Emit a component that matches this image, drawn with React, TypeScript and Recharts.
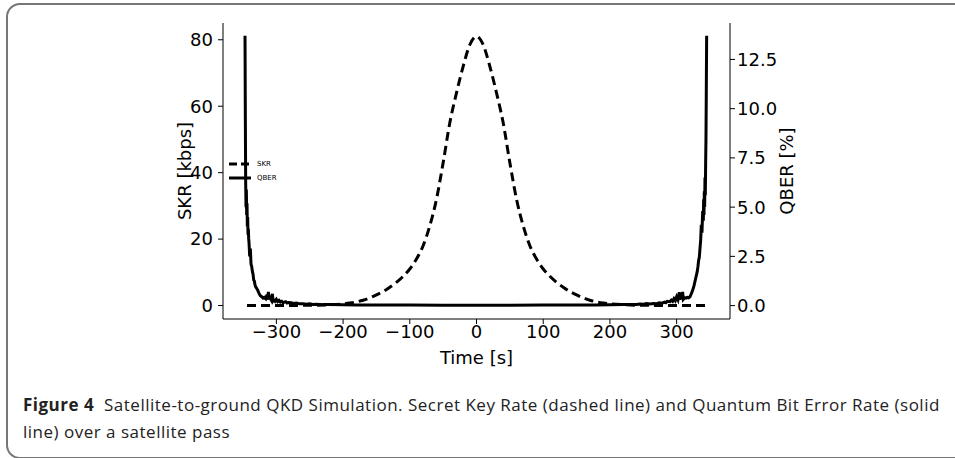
import { LineChart, Line, XAxis, YAxis, Legend } from 'recharts';

// time axis [s]
const timeTicks = [-300, -200, -100, 0, 100, 200, 300];
const skrTicks = [0, 20, 40, 60, 80];
const qberTicks = [0, 2.5, 5, 7.5, 10, 12.5];

// Secret key rate [kbps]
const skrTime = [
  -344, -300, -250, -220, -200, -190, -180, -170, -160, -150,
  -140, -130, -120, -110, -100, -90, -80, -70, -60, -50,
  -40, -30, -20, -10, 0, 10, 20, 30, 40, 50,
  60, 70, 80, 90, 100, 110, 120, 130, 140, 150,
  160, 170, 180, 190, 200, 220, 250, 300, 344,
];
const skrRate = [
  0, 0.02, 0.08, 0.25, 0.5, 0.75, 1.1, 1.6, 2.3, 3.2,
  4.2, 5.5, 7.0, 8.8, 11, 14, 18, 24, 32, 43,
  55, 64, 72, 78.5, 81, 78.5, 72, 64, 55, 43,
  32, 24, 18, 14, 11, 8.8, 7.0, 5.5, 4.2, 3.2,
  2.3, 1.6, 1.1, 0.75, 0.5, 0.25, 0.08, 0.02, 0,
];

// Quantum bit error rate [%]
const qberTime = [
  -347, -346.5, -346, -345.5, -345, -344.5, -344, -343.5, -343, -342.5,
  -342, -341.5, -341, -340, -339, -338, -337, -336, -335, -334,
  -333, -332, -331, -330, -328, -326, -324, -322, -320, -318,
  -316, -314, -313, -312, -311, -310, -308, -306, -305, -304,
  -302, -300, -298, -296, -294, -292, -290, -286, -284, -282,
  -278, -274, -270, -265, -260, -255, -250, -245, -240, -230,
  -220, -200, -180, -150, -100, -50, 0, 50, 100, 150,
  180, 200, 220, 230, 240, 245, 250, 255, 260, 265,
  270, 274, 278, 282, 284, 286, 290, 292, 294, 296,
  298, 300, 302, 304, 305, 306, 308, 309, 310, 312,
  314, 316, 318, 320, 322, 324, 326, 328, 330, 331,
  332, 333, 334, 335, 336, 337, 338, 339, 340, 340.5,
  341, 341.5, 342, 342.5, 343, 343.5, 344, 344.5, 345,
];
const qberRate = [
  13.7, 9.5, 6.2, 5.0, 5.9, 4.6, 5.2, 4.0, 4.5, 3.6,
  3.9, 3.4, 3.2, 2.5, 2.9, 2.1, 2.0, 1.75, 1.6, 1.3,
  1.25, 1.05, 0.95, 0.9, 0.78, 0.62, 0.5, 0.45, 0.38, 0.42,
  0.35, 0.55, 0.3, 0.7, 0.32, 0.42, 0.3, 0.6, 0.25, 0.3,
  0.22, 0.32, 0.2, 0.26, 0.18, 0.22, 0.15, 0.2, 0.13, 0.16,
  0.14, 0.11, 0.13, 0.09, 0.1, 0.07, 0.09, 0.06, 0.07, 0.05,
  0.05, 0.04, 0.035, 0.03, 0.025, 0.02, 0.02, 0.02, 0.025, 0.03,
  0.035, 0.04, 0.05, 0.05, 0.06, 0.08, 0.07, 0.1, 0.08, 0.11,
  0.1, 0.14, 0.12, 0.18, 0.15, 0.22, 0.2, 0.28, 0.22, 0.35,
  0.25, 0.45, 0.3, 0.68, 0.3, 0.55, 0.35, 0.7, 0.32, 0.4,
  0.38, 0.42, 0.4, 0.45, 0.6, 0.78, 1.0, 1.3, 1.6, 1.75,
  2.0, 2.3, 2.45, 2.9, 3.3, 4.1, 3.7, 4.8, 4.3, 5.4,
  4.6, 5.8, 5.0, 6.5, 5.6, 7.2, 8.5, 11.0, 13.7,
];

const skrData = skrTime.map((t, i) => ({ t, skr: skrRate[i] }));
const qberData = qberTime.map((t, i) => ({ t, qber: qberRate[i] }));

const tickFont = { fontFamily: 'DejaVu Sans', fontSize: 18, fill: '#000' };
const minus = (v: number, digits = 0) => {
  const s = Math.abs(v).toFixed(digits);
  return v < 0 ? '\u2212' + s : s;
};

function renderLegend() {
  return (
    <div style={{ fontFamily: 'DejaVu Sans', fontSize: 7, lineHeight: '14px', color: '#000' }}>
      <div style={{ display: 'flex', alignItems: 'center' }}>
        <svg width={24} height={6}>
          <line x1={1} y1={3} x2={23} y2={3} stroke="#000" strokeWidth={3} strokeDasharray="8 4" />
        </svg>
        <span style={{ marginLeft: 5 }}>SKR</span>
      </div>
      <div style={{ display: 'flex', alignItems: 'center' }}>
        <svg width={24} height={6}>
          <line x1={1} y1={3} x2={23} y2={3} stroke="#000" strokeWidth={3} />
        </svg>
        <span style={{ marginLeft: 5 }}>QBER</span>
      </div>
    </div>
  );
}

export default function App() {
  return (
    <div style={{ position: 'absolute', left: 0, top: 0, width: 955, height: 458, overflow: 'hidden', background: '#fff' }}>
      <div
        style={{
          position: 'absolute', left: 6, top: 3, width: 1000, height: 452,
          border: '2px solid #777', borderRadius: 14,
        }}
      />
      <div style={{ position: 'absolute', left: 0, top: 0 }}>
        <LineChart
          width={955}
          height={380}
          margin={{ top: 23, right: 0, bottom: 0, left: 0 }}
          style={{ fontFamily: 'DejaVu Sans' }}
        >
          <XAxis
            dataKey="t"
            type="number"
            domain={[-380, 380]}
            ticks={timeTicks}
            tickFormatter={(v) => minus(v)}
            tick={tickFont}
            tickSize={5}
            tickMargin={1}
            stroke="#000"
            height={61}
            allowDataOverflow
            label={{ value: 'Time [s]', position: 'insideBottom', offset: 16, style: { ...tickFont, textAnchor: 'middle' } }}
          />
          <XAxis xAxisId="top" type="number" orientation="top" domain={[-380, 380]} tick={false} tickLine={false} height={0} stroke="#000" />
          <YAxis
            yAxisId="skr"
            type="number"
            domain={[-4.05, 85.05]}
            ticks={skrTicks}
            tick={tickFont}
            tickSize={5}
            tickMargin={5}
            stroke="#000"
            width={223}
            allowDataOverflow
            label={{ value: 'SKR [kbps]', angle: -90, position: 'center', dx: 73, style: { ...tickFont, textAnchor: 'middle' } }}
          />
          <YAxis
            yAxisId="qber"
            orientation="right"
            type="number"
            domain={[-0.68, 14.35]}
            ticks={qberTicks}
            tickFormatter={(v) => minus(v, 1)}
            tick={tickFont}
            tickSize={5}
            stroke="#000"
            width={225}
            allowDataOverflow
            label={{ value: 'QBER [%]', angle: -90, position: 'center', dx: -56, style: { ...tickFont, textAnchor: 'middle' } }}
          />
          <Legend
            layout="horizontal"
            verticalAlign="middle"
            align="center"
            content={renderLegend}
            wrapperStyle={{ left: 228, top: 157, width: 80 }}
          />
          <Line
            yAxisId="skr"
            data={skrData}
            dataKey="skr"
            type="monotone"
            stroke="#000"
            strokeWidth={3}
            strokeDasharray="9 5"
            dot={false}
            isAnimationActive={false}
          />
          <Line
            yAxisId="qber"
            data={qberData}
            dataKey="qber"
            type="linear"
            stroke="#000"
            strokeWidth={3}
            dot={false}
            isAnimationActive={false}
          />
        </LineChart>
      </div>
      <div
        style={{
          position: 'absolute', left: 23, top: 391, fontFamily: 'Open Sans', fontSize: 17,
          letterSpacing: 0.5, color: '#222', lineHeight: '27px', whiteSpace: 'nowrap',
        }}
      >
        <div>
          <b>Figure 4</b>&nbsp; Satellite-to-ground QKD Simulation. Secret Key Rate (dashed line) and Quantum Bit Error Rate (solid
        </div>
        <div>line) over a satellite pass</div>
      </div>
    </div>
  );
}
